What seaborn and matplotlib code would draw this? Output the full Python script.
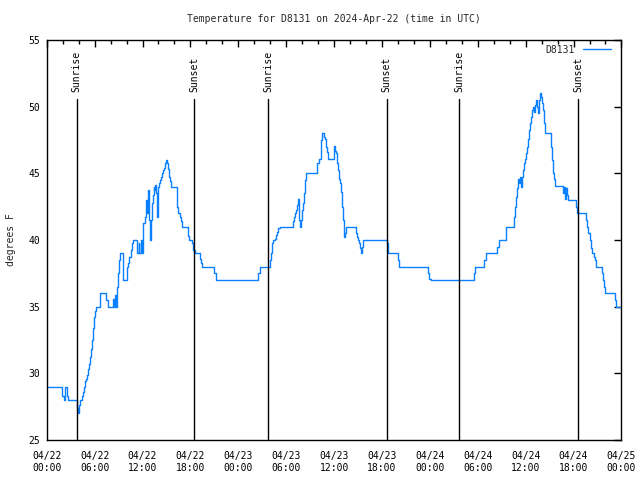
import pandas as pd
import matplotlib
matplotlib.use("Agg")
import matplotlib.pyplot as plt
import matplotlib.dates as mdates
import seaborn as sns

# -------------------------------------------------------------------
# Data
# -------------------------------------------------------------------
start = pd.Timestamp("2024-04-22 00:00")
station = "D8131"

# (hours since 04/22 00:00 UTC, temperature F) at each step change
day1_readings = [
    (0.0, 29.0), (1.96, 28.3), (2.2, 28.0), (2.34, 29.0), (2.5, 28.3), (2.7, 28.0),
    (3.78, 27.4), (3.88, 27.0), (4.05, 27.6), (4.2, 28.0), (4.45, 28.3), (4.58, 28.6),
    (4.71, 29.0), (4.84, 29.4), (4.96, 29.6), (5.09, 29.9), (5.22, 30.3), (5.34, 30.7),
    (5.47, 31.2), (5.59, 31.8), (5.72, 32.5), (5.84, 33.4), (5.97, 34.2), (6.09, 34.7),
    (6.22, 35.0), (6.68, 36.0), (7.43, 35.5), (7.72, 35.0), (8.27, 35.6), (8.4, 35.0),
    (8.56, 35.9), (8.69, 35.0), (8.81, 36.5), (8.94, 37.5), (9.06, 38.5), (9.2, 39.0),
    (9.5, 38.5), (9.6, 37.0), (10.0, 38.0), (10.19, 38.25), (10.36, 38.75),
    (10.52, 39.25), (10.69, 39.75), (10.86, 40.0), (11.25, 39.5), (11.35, 39.0),
    (11.5, 39.75), (11.6, 39.0), (11.75, 40.0), (11.88, 39.0), (12.0, 40.0),
    (12.12, 41.25), (12.25, 41.75), (12.38, 42.25), (12.5, 43.0), (12.62, 42.0),
    (12.75, 43.75), (12.85, 41.5), (12.94, 40.0), (13.07, 41.5), (13.2, 42.75),
    (13.3, 43.4), (13.4, 44.0), (13.5, 43.75), (13.61, 44.1), (13.75, 43.5),
    (13.82, 41.75), (13.9, 44.0), (14.07, 44.25), (14.2, 44.5), (14.32, 44.75),
    (14.45, 45.0), (14.58, 45.25), (14.7, 45.4), (14.83, 45.75), (14.95, 46.0),
    (15.07, 45.75), (15.2, 45.3), (15.33, 44.75), (15.45, 44.4), (15.53, 44.0),
    (16.29, 43.5), (16.37, 42.5), (16.46, 42.0), (16.7, 41.75), (16.83, 41.4),
    (16.99, 41.0), (17.74, 40.3), (17.87, 40.0), (18.2, 39.75), (18.37, 39.25),
    (18.54, 39.0), (19.2, 38.6), (19.3, 38.3), (19.4, 38.0), (21.0, 37.5),
    (21.2, 37.0), (26.5, 37.5), (26.7, 38.0),
]
day2_readings = [
    (27.95, 38.5), (28.1, 39.0), (28.23, 39.75), (28.36, 40.0), (28.55, 40.1),
    (28.7, 40.4), (28.85, 40.6), (29.0, 40.9), (29.2, 41.0), (30.91, 41.4),
    (31.03, 41.75), (31.16, 42.0), (31.28, 42.25), (31.41, 42.6), (31.53, 43.05),
    (31.66, 41.5), (31.78, 41.0), (31.91, 41.5), (32.03, 42.25), (32.16, 42.75),
    (32.29, 43.5), (32.41, 44.5), (32.54, 45.0), (33.83, 45.75), (34.08, 46.05),
    (34.33, 47.5), (34.5, 48.0), (34.75, 47.75), (34.88, 47.6), (35.0, 47.0),
    (35.13, 46.6), (35.25, 46.05), (36.0, 47.05), (36.13, 46.7), (36.25, 46.5),
    (36.38, 45.75), (36.5, 45.25), (36.63, 44.6), (36.75, 44.25), (36.88, 43.6),
    (37.0, 42.5), (37.13, 41.5), (37.26, 40.25), (37.38, 40.5), (37.5, 41.0),
    (38.76, 40.5), (38.84, 40.25), (38.97, 40.0), (39.1, 39.75), (39.22, 39.4),
    (39.35, 39.0), (39.47, 39.5), (39.68, 40.0), (42.6, 39.75), (42.75, 39.0),
    (44.07, 38.5), (44.19, 38.0), (47.74, 37.5), (47.91, 37.1), (48.08, 37.0),
]
day3_readings = [
    (53.47, 37.5), (53.6, 38.0), (54.72, 38.5), (54.97, 39.0), (56.47, 39.5),
    (56.64, 40.0), (57.48, 41.0), (58.6, 41.75), (58.72, 42.5), (58.85, 43.25),
    (58.93, 43.9), (59.06, 44.6), (59.18, 44.25), (59.31, 44.75), (59.43, 44.0),
    (59.56, 44.75), (59.68, 45.25), (59.81, 45.75), (59.93, 46.05), (60.06, 46.5),
    (60.18, 47.0), (60.31, 47.6), (60.43, 48.25), (60.56, 48.75), (60.68, 49.25),
    (60.81, 49.75), (60.94, 50.0), (61.06, 49.6), (61.19, 50.1), (61.31, 50.5),
    (61.44, 50.0), (61.56, 49.5), (61.69, 50.5), (61.81, 51.05), (61.94, 50.75),
    (62.06, 50.25), (62.19, 49.75), (62.31, 48.75), (62.44, 48.05), (63.19, 47.0),
    (63.32, 46.0), (63.44, 45.05), (63.57, 44.6), (63.69, 44.05), (64.74, 43.5),
    (64.86, 44.0), (64.99, 43.1), (65.11, 43.9), (65.24, 43.4), (65.36, 43.0),
    (66.32, 42.5), (66.45, 42.0), (67.58, 41.5), (67.7, 41.0), (67.83, 40.5),
    (68.0, 40.0), (68.16, 39.4), (68.33, 39.0), (68.5, 38.75), (68.66, 38.5),
    (68.83, 38.0), (69.54, 37.5), (69.67, 37.0), (69.79, 36.5), (69.92, 36.0),
    (71.21, 35.5), (71.34, 35.0), (72.0, 35.0),
]

sunrise_hours = [3.76, 27.77, 51.7]
sunset_hours = [18.5, 42.6, 66.62]

title = "Temperature for D8131 on 2024-Apr-22 (time in UTC)"
y_label = "degrees F"
y_ticks = [25, 30, 35, 40, 45, 50, 55]

# -------------------------------------------------------------------
# Build the frame
# -------------------------------------------------------------------
df = pd.DataFrame(day1_readings + day2_readings + day3_readings,
                  columns=["hours", "temp"])
df["time"] = start + pd.to_timedelta(df["hours"], unit="h")

# -------------------------------------------------------------------
# Plot
# -------------------------------------------------------------------
sns.set_theme(style="white")
plt.rcParams["font.family"] = ["DejaVu Sans Mono", "DejaVu Sans"]
plt.rcParams["font.size"] = 7

fig = plt.figure(figsize=(6.4, 4.8), dpi=100)
ax = fig.add_axes([0.073, 0.0833, 0.898, 0.8334])

sns.lineplot(data=df, x="time", y="temp", ax=ax, color="#0a80ff",
             linewidth=1.0, drawstyle="steps-post", label=station)

# sunrise / sunset markers
for h in sunrise_hours:
    t = start + pd.Timedelta(hours=h)
    ax.plot([t, t], [25, 50.6], color="black", lw=1.0)
    ax.text(t, 51.1, "Sunrise", rotation=90, ha="center", va="bottom",
            fontsize=7, color="black")
for h in sunset_hours:
    t = start + pd.Timedelta(hours=h)
    ax.plot([t, t], [25, 50.6], color="black", lw=1.0)
    ax.text(t, 51.1, "Sunset", rotation=90, ha="center", va="bottom",
            fontsize=7, color="black")

ax.set_xlim(start, start + pd.Timedelta(hours=72))
ax.set_ylim(25, 55)
ax.set_yticks(y_ticks)

ax.xaxis.set_major_locator(mdates.HourLocator(byhour=[0, 6, 12, 18]))
ax.xaxis.set_minor_locator(mdates.HourLocator(interval=2))
ax.xaxis.set_major_formatter(mdates.DateFormatter("%m/%d\n%H:%M"))

ax.tick_params(which="both", direction="in", top=True, right=True,
               colors="black", labelsize=7, width=1.0)
ax.tick_params(which="major", length=5)
ax.tick_params(which="minor", length=3)
ax.tick_params(axis="x", pad=8)
ax.tick_params(axis="y", pad=5)

for s in ax.spines.values():
    s.set_color("black")
    s.set_linewidth(1.0)

ax.set_xlabel("")
ax.set_ylabel(y_label, fontsize=7, labelpad=9)
ax.set_title(title, fontsize=7, pad=13)

ax.legend(loc="upper right", frameon=False, markerfirst=False,
          handlelength=2.9, handletextpad=0.8, fontsize=7,
          borderaxespad=0.1, bbox_to_anchor=(0.99, 1.0))

fig.savefig("out.png", dpi=100)
